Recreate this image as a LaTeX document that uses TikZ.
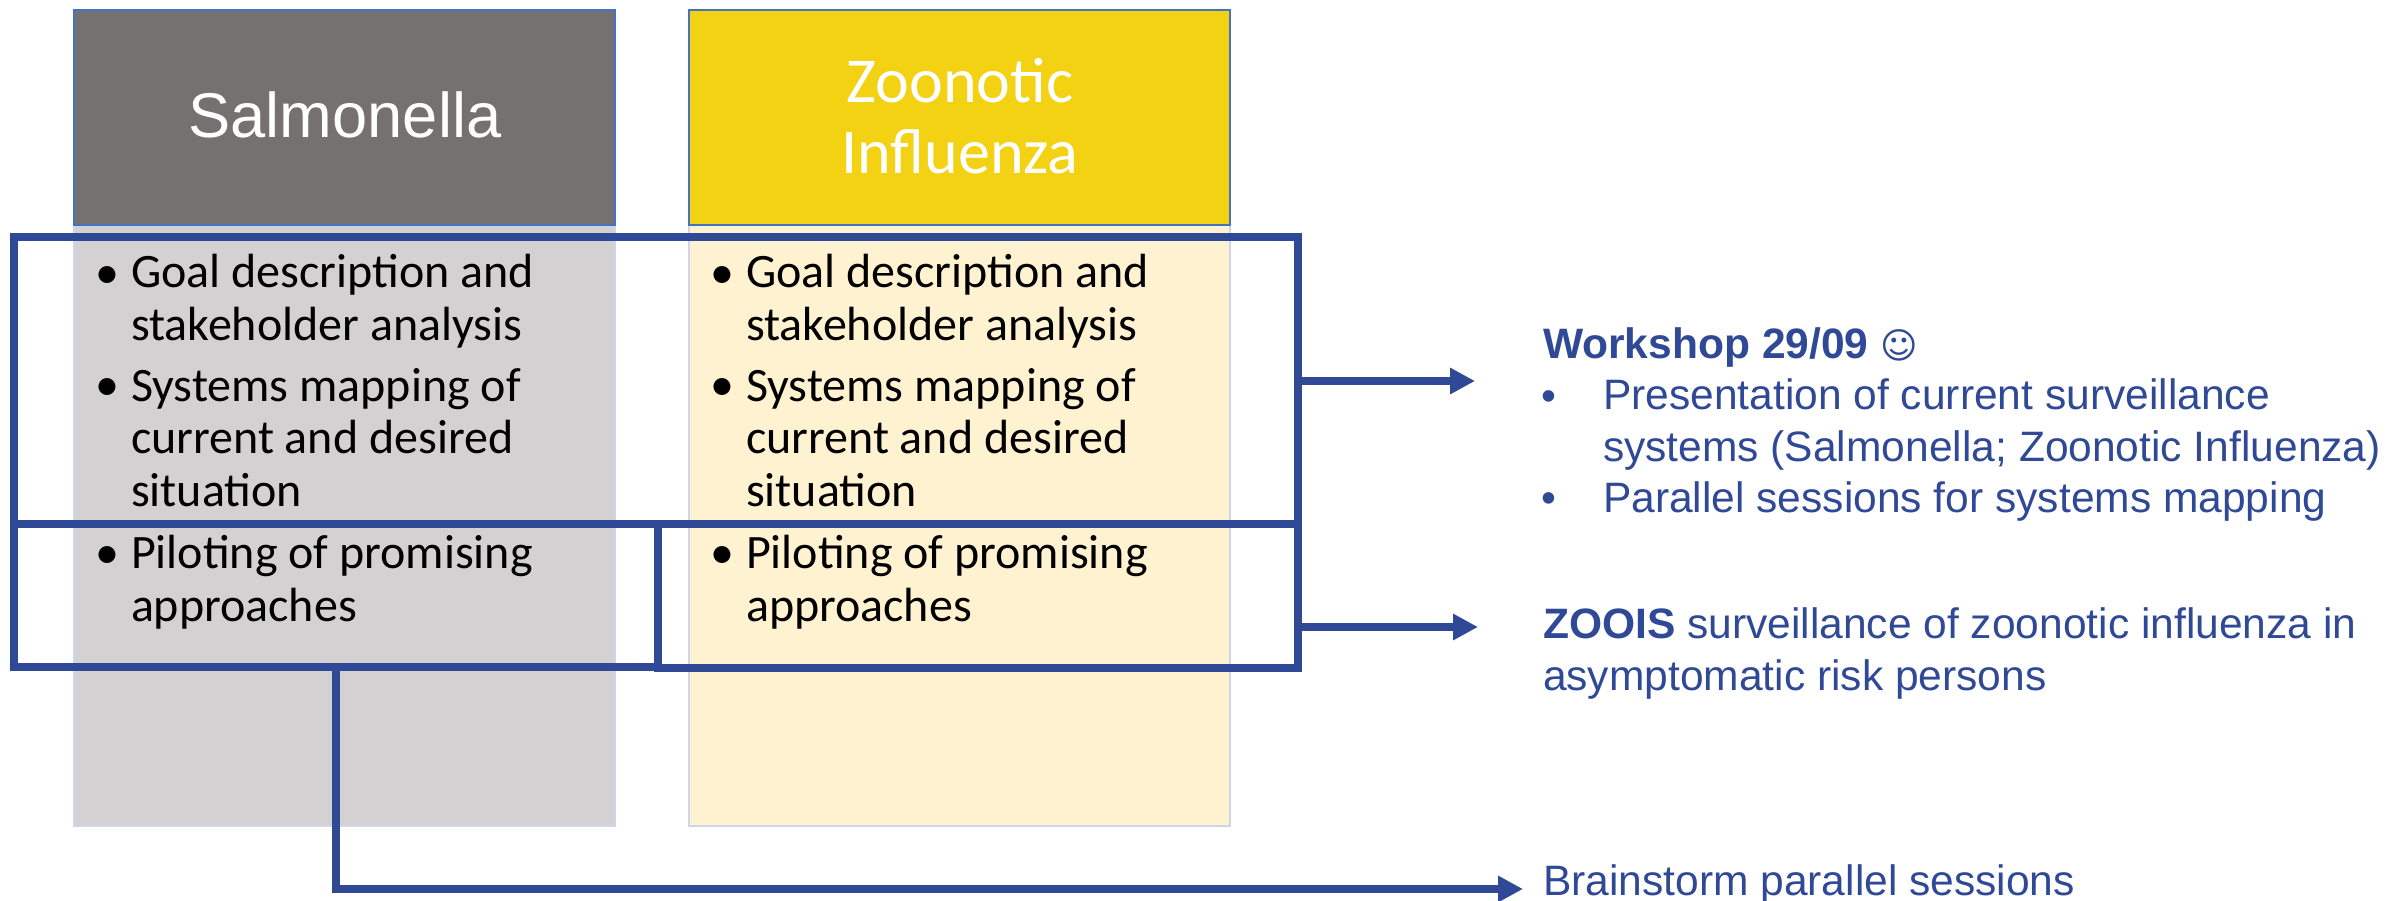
\documentclass[tikz,border=0pt]{standalone}
\usepackage{fontspec}
\setmainfont{Liberation Sans}
\newfontfamily\calib{Carlito}
\newfontfamily\dejavu{DejaVu Sans}
\usetikzlibrary{arrows.meta}
\definecolor{navy}{HTML}{2F4996}
\definecolor{edgeblue}{HTML}{4472C4}
\definecolor{paleedge}{HTML}{CFD5EA}
\definecolor{darkgrey}{HTML}{767171}
\definecolor{gold}{HTML}{F3D113}
\definecolor{palegrey}{HTML}{D3D1D2}
\definecolor{paleyellow}{HTML}{FFF2D0}
\tikzset{
  x=0.5pt,y=-0.5pt,
  every node/.style={inner sep=0pt,outer sep=0pt},
  panel/.style={anchor=north west,minimum width=270.5pt,line width=0.8pt},
  header/.style={panel,minimum height=107.5pt,draw=edgeblue,text=white},
  lower/.style={panel,minimum height=301pt,draw=paleedge},
  frame/.style={draw=navy,line width=4.4pt,anchor=north west},
  link/.style={draw=navy,line width=4.4pt,-{Triangle[length=12.5pt,width=12.5pt]}},
  item/.style={anchor=base west,align=left,font=\calib\fontsize{24}{26.25}\selectfont},
  dot/.style={anchor=base,font=\calib\fontsize{24}{26.25}\selectfont},
  note/.style={anchor=base west,align=left,text=navy,font=\fontsize{21.27}{25.75}\selectfont},
  notedot/.style={anchor=base,text=navy,font=\fontsize{21.27}{25.75}\selectfont}
}
\begin{document}
\begin{tikzpicture}
\useasboundingbox (0,0) rectangle (2397,900);
% panels
\node[lower,fill=palegrey] (lowS) at (74,224) {};
\node[lower,fill=paleyellow] (lowZ) at (689,224) {};
\node[header,fill=darkgrey] (headS) at (74,10) {};
\node[header,fill=gold] (headZ) at (689,10) {};
\node[anchor=base,text=white,font=\fontsize{31.6}{36}\selectfont] (tS) at (345,137) {Salmonella};
\node[anchor=base,text=white,font=\calib\fontsize{32}{36}\selectfont] (tZ1) at (960,102) {Zoonotic};
\node[anchor=base,text=white,font=\calib\fontsize{32}{36}\selectfont] (tZ2) at (960,173) {Influenza};
% Salmonella bullets
\node[dot] (s1d) at (107,288) {•};
\node[item] (s1) at (131,340) {Goal description and\\stakeholder analysis};
\node[dot] (s2d) at (107,400) {•};
\node[item] (s2) at (131,506) {Systems mapping of\\current and desired\\situation};
\node[dot] (s3d) at (107,568) {•};
\node[item] (s3) at (131,621) {Piloting of promising\\approaches};
% Influenza bullets
\node[dot] (z1d) at (722,288) {•};
\node[item] (z1) at (746,340) {Goal description and\\stakeholder analysis};
\node[dot] (z2d) at (722,400) {•};
\node[item] (z2) at (746,506) {Systems mapping of\\current and desired\\situation};
\node[dot] (z3d) at (722,568) {•};
\node[item] (z3) at (746,621) {Piloting of promising\\approaches};
% frames
\node[frame,minimum width=642pt,minimum height=143.5pt] (f1) at (14,237) {};
\node[frame,minimum width=322pt,minimum height=71.5pt] (f2) at (14,524) {};
\node[frame,minimum width=320pt,minimum height=72pt] (f3) at (658,524) {};
% right notes
\node[note] (w0) at (1543,358) {\textbf{Workshop 29/09} {\dejavu\fontsize{18}{20}\selectfont ☺}};
\node[notedot] (w1d) at (1549,410) {•};
\node[note] (w1) at (1603,461) {Presentation of current surveillance\\systems (Salmonella; Zoonotic Influenza)};
\node[notedot] (w2d) at (1549,512) {•};
\node[note] (w2) at (1603,512) {Parallel sessions for systems mapping};
\node[note] (zo) at (1543,690) {\textbf{ZOOIS} surveillance of zoonotic influenza in\\asymptomatic risk persons};
\node[note] (br) at (1543,895) {Brainstorm parallel sessions};
% connectors
\coordinate (a1) at (1475,381);
\coordinate (a2s) at (1298,627);
\coordinate (a2) at (1478,627);
\coordinate (a3) at (1523,889);
\draw[link] (f1.east |- a1) -- (a1);
\draw[link] (a2s) -- (a2);
\draw[link] (f2.south) |- (a3);
\end{tikzpicture}
\end{document}
